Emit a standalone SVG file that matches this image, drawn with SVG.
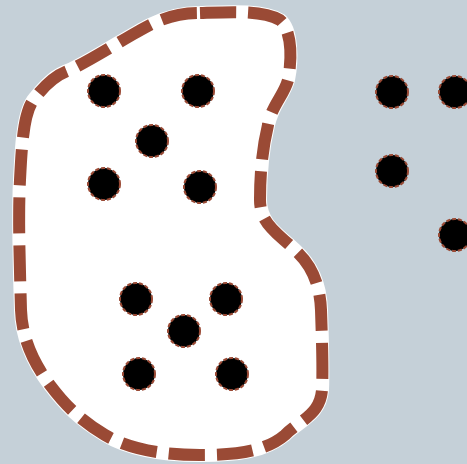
<svg xmlns="http://www.w3.org/2000/svg" width="467" height="464" viewBox="0 0 467 464">
<style>
.dot{fill:#000;stroke:#9a4a35;stroke-width:2;stroke-dasharray:4 2}
.blob{fill:#fff;stroke:#9a4a35;stroke-width:12;stroke-dasharray:36 12}
</style>
<rect x="0" y="0" width="467" height="464" fill="#c5d0d8"/>
<g id="region">
<path d="M 200,13 C 230,12 262,10 280,20 C 292,30 292,60 288,80 C 284,95 272,105 268,125 C 262,150 260,175 260,200 C 260,225 280,235 295,250 C 312,265 320,285 321,310 C 322,340 323,370 322,390 C 320,415 300,420 285,435 C 265,452 235,455 200,455 C 165,455 130,450 105,435 C 80,420 65,405 50,385 C 35,365 22,340 21,310 C 20,270 18,220 20,180 C 22,140 24,110 35,98 C 45,85 55,75 70,70 C 95,58 130,35 150,25 C 170,15 185,13 200,13 Z" fill="#fff" stroke="#fff" stroke-width="14"/>
<path class="blob" d="M 200,13 C 230,12 262,10 280,20 C 292,30 292,60 288,80 C 284,95 272,105 268,125 C 262,150 260,175 260,200 C 260,225 280,235 295,250 C 312,265 320,285 321,310 C 322,340 323,370 322,390 C 320,415 300,420 285,435 C 265,452 235,455 200,455 C 165,455 130,450 105,435 C 80,420 65,405 50,385 C 35,365 22,340 21,310 C 20,270 18,220 20,180 C 22,140 24,110 35,98 C 45,85 55,75 70,70 C 95,58 130,35 150,25 C 170,15 185,13 200,13 Z"/>
</g>
<g id="p1"><circle class="dot" cx="104" cy="91" r="16"/></g>
<g id="p2"><circle class="dot" cx="198" cy="91" r="16"/></g>
<g id="p3"><circle class="dot" cx="152" cy="141" r="16"/></g>
<g id="p4"><circle class="dot" cx="104" cy="184" r="16"/></g>
<g id="p5"><circle class="dot" cx="200" cy="187" r="16"/></g>
<g id="p6"><circle class="dot" cx="136" cy="299" r="16"/></g>
<g id="p7"><circle class="dot" cx="226" cy="299" r="16"/></g>
<g id="p8"><circle class="dot" cx="184" cy="331" r="16"/></g>
<g id="p9"><circle class="dot" cx="139" cy="374" r="16"/></g>
<g id="p10"><circle class="dot" cx="232" cy="374" r="16"/></g>
<g id="p11"><circle class="dot" cx="392" cy="92" r="16"/></g>
<g id="p12"><circle class="dot" cx="455" cy="92" r="16"/></g>
<g id="p13"><circle class="dot" cx="392" cy="171" r="16"/></g>
<g id="p14"><circle class="dot" cx="455" cy="235" r="16"/></g>
<g id="connectors"></g>
</svg>
